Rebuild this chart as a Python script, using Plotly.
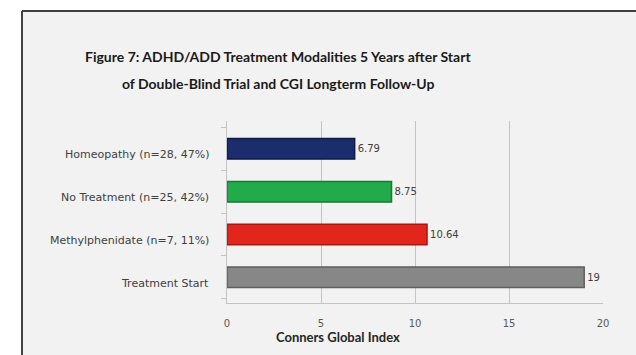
import plotly.graph_objects as go

# Conners Global Index by treatment modality
categories = [
    "Treatment Start",
    "Methylphenidate (n=7, 11%)",
    "No Treatment (n=25, 42%)",
    "Homeopathy (n=28, 47%)",
]
values = [19, 10.64, 8.75, 6.79]
value_labels = ["19", "10.64", "8.75", "6.79"]
bar_colors = ["#878787", "#e3261c", "#21ab4a", "#1c2d6e"]
edge_colors = ["#5e5e5e", "#a81812", "#157a33", "#0f1a45"]
x_ticks = [0, 5, 10, 15, 20]

title_lines = [
    "Figure 7: ADHD/ADD Treatment Modalities 5 Years after Start",
    "of Double-Blind Trial and CGI Longterm Follow-Up",
]
x_title = "Conners Global Index"

W, H = 636, 355
ml, mr, mt, mb = 227, 33, 121, 52
pw, ph = W - ml - mr, H - mt - mb


def px_x(px):
    return (px - ml) / pw


def px_y(py):
    return (H - mb - py) / ph


fig = go.Figure()
fig.add_trace(go.Bar(
    y=categories,
    x=values,
    orientation="h",
    marker=dict(color=bar_colors, line=dict(color=edge_colors, width=1.5)),
    text=value_labels,
    textposition="outside",
    textfont=dict(family="DejaVu Sans", size=10, color="#404040"),
    cliponaxis=False,
    width=0.48,
    hoverinfo="x+y",
))

# chart frame: light fill with a dark left and top edge
fig.add_shape(
    type="rect", xref="paper", yref="paper",
    x0=px_x(22), x1=px_x(W + 20), y0=px_y(H + 20), y1=px_y(11),
    fillcolor="#f2f2f2", line=dict(color="rgba(0,0,0,0)", width=0),
    layer="below",
)
fig.add_shape(
    type="line", xref="paper", yref="paper",
    x0=px_x(22), x1=px_x(22), y0=px_y(H + 20), y1=px_y(11),
    line=dict(color="#404040", width=2), layer="below",
)
fig.add_shape(
    type="line", xref="paper", yref="paper",
    x0=px_x(22), x1=px_x(W + 20), y0=px_y(11), y1=px_y(11),
    line=dict(color="#404040", width=2), layer="below",
)

for i, line in enumerate(title_lines):
    fig.add_annotation(
        text="<b>%s</b>" % line, xref="paper", yref="paper",
        x=px_x(278), y=px_y(57 + 26 * i), xanchor="center", yanchor="middle",
        showarrow=False, font=dict(family="Lato", size=14, color="#1a1a1a"),
    )

# category labels sit slightly low, in line with the front of the floor
for cat in categories:
    fig.add_annotation(
        text=cat, x=0, y=cat, xref="x", yref="y",
        xanchor="right", yanchor="middle", xshift=-16, yshift=-6,
        showarrow=False,
        font=dict(family="DejaVu Sans", size=11, color="#404040"),
    )

fig.add_annotation(
    text="<b>%s</b>" % x_title, xref="paper", yref="paper",
    x=px_x(338), y=px_y(337), xanchor="center", yanchor="middle",
    showarrow=False, font=dict(family="Lato", size=13, color="#262626"),
)

fig.update_layout(
    width=W, height=H,
    margin=dict(l=ml, r=mr, t=mt, b=mb, pad=0),
    paper_bgcolor="white", plot_bgcolor="rgba(0,0,0,0)",
    showlegend=False,
    xaxis=dict(
        range=[0, 20], tickvals=x_ticks, showgrid=True, gridcolor="#c4c4c4",
        gridwidth=1, zeroline=False, showline=True, linecolor="#c4c4c4",
        ticks="", ticklabelstandoff=11,
        tickfont=dict(family="DejaVu Sans", size=10, color="#595959"),
        fixedrange=True,
    ),
    yaxis=dict(
        categoryorder="array", categoryarray=categories,
        range=[-0.6, 3.65], showgrid=False, zeroline=False, showline=True,
        linecolor="#c4c4c4", ticks="outside", tickson="boundaries", ticklen=5,
        tickcolor="#c4c4c4", showticklabels=False,
        fixedrange=True,
    ),
)

fig.write_html(
    "out.html",
    config={"displayModeBar": False},
    post_script="document.body.style.margin='0';"
                "document.body.style.overflow='hidden';",
)
